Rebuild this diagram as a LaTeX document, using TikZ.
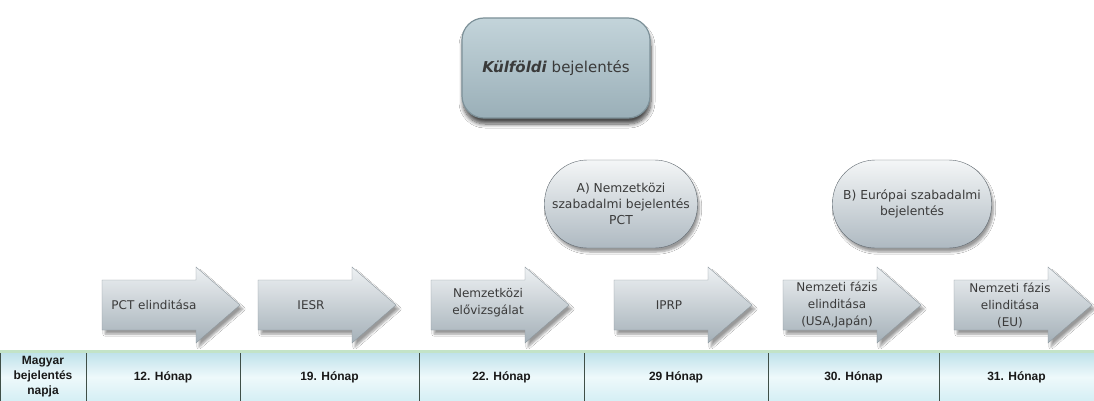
\documentclass[tikz,border=0pt]{standalone}
\usepackage{fontspec}
\setmainfont{DejaVu Sans}
\newfontfamily\cellfont{Liberation Sans}
\usepackage{xcolor}
\usetikzlibrary{positioning,shadows.blur}

\definecolor{boxtop}{HTML}{C3D4DA}
\definecolor{boxbottom}{HTML}{9AAFB8}
\definecolor{boxedge}{HTML}{7D9199}
\definecolor{pilltop}{HTML}{F4F6F7}
\definecolor{pillbottom}{HTML}{AEB9C1}
\definecolor{pilledge}{HTML}{5E676E}
\definecolor{arrowtop}{HTML}{EEF1F3}
\definecolor{arrowbottom}{HTML}{A4B0B8}
\definecolor{arrowedge}{HTML}{8C979E}
\definecolor{celltop}{HTML}{BCE0E9}
\definecolor{cellmid}{HTML}{EEF9FB}
\definecolor{cellbottom}{HTML}{D3EEF4}
\definecolor{cellline}{HTML}{3F4F47}
\definecolor{tablegreen}{HTML}{C3E3C7}
\definecolor{textgray}{HTML}{3A3A3A}

\tikzset{
    main-box/.style = {rectangle, rounded corners=22pt, draw=boxedge, line width=1.2pt, top color=boxtop, bottom color=boxbottom, minimum width=188pt, minimum height=100pt, blur shadow={shadow xshift=1pt, shadow yshift=-6pt, shadow blur steps=8, shadow blur radius=4pt, shadow opacity=70}, text=textgray, font=\fontsize{15}{18}\selectfont},
    phase-pill/.style = {rectangle, rounded corners=43pt, draw=pilledge, thin, top color=pilltop, bottom color=pillbottom, minimum height=88pt, align=center, blur shadow={shadow xshift=2pt, shadow yshift=-4pt, shadow blur steps=6}, text=textgray, font=\fontsize{12.3}{16}\selectfont},
    arrow-body/.style = {draw=arrowedge, thin, top color=arrowtop, bottom color=arrowbottom, blur shadow={shadow xshift=3pt, shadow yshift=-4pt, shadow blur steps=6}},
    step-arrow/.pic = {\path[arrow-body] (0,-25) -- (94,-25) -- (94,-38) -- (138,0) -- (94,38) -- (94,25) -- (0,25) -- cycle;},
    step-text/.style = {align=center, text=textgray, font=\fontsize{12}{17}\selectfont},
    month-cell/.style = {rectangle, draw=cellline, semithick, top color=celltop, bottom color=cellbottom, middle color=cellmid, minimum height=52pt, outer sep=0pt, inner sep=0pt, align=center, text=black!90, font=\cellfont\fontsize{12}{15}\selectfont\bfseries},
    table-top/.style = {draw=tablegreen, line width=3pt},
}

\begin{document}
\begin{tikzpicture}[x=1pt, y=-1pt]
\path[fill=white, use as bounding box] (0,0) rectangle (1094,401);

% top box
\node[main-box] (abroad) at (556,68) {\textbf{\textit{Külföldi}} bejelentés};

% the two routes
\node[phase-pill, minimum width=153pt] (pct-app) at (621,204) {A) Nemzetközi\\szabadalmi bejelentés\\PCT};
\node[phase-pill, minimum width=159pt] (ep-app) at (912,204) {B) Európai szabadalmi\\bejelentés};

% steps
\pic at (102,305) {step-arrow};
\pic at (258,305) {step-arrow};
\pic at (431,305) {step-arrow};
\pic at (614,305) {step-arrow};
\pic at (783,305) {step-arrow};
\pic at (954,305) {step-arrow};

\node[step-text] (pct-start) at (154,305) {PCT elinditása};
\node[step-text] (iesr) at (311,305) {IESR};
\node[step-text] (prelim) at (488,303) {Nemzetközi\\elővizsgálat};
\node[step-text] (iprp) at (669,305) {IPRP};
\node[step-text] (national-us) at (837,305) {Nemzeti fázis\\elinditása\\(USA,Japán)};
\node[step-text] (national-eu) at (1010,305) {Nemzeti fázis\\elinditása\\(EU)};

% months
\node[month-cell, anchor=north west, minimum width=86pt] (napja) at (0,351) {Magyar\\bejelentés\\napja};
\node[month-cell, right=0pt of napja, minimum width=154pt] (m12) {12. Hónap};
\node[month-cell, right=0pt of m12, minimum width=179pt] (m19) {19. Hónap};
\node[month-cell, right=0pt of m19, minimum width=165pt] (m22) {22. Hónap};
\node[month-cell, right=0pt of m22, minimum width=184pt] (m29) {29 Hónap};
\node[month-cell, right=0pt of m29, minimum width=171pt] (m30) {30. Hónap};
\node[month-cell, right=0pt of m30, minimum width=155pt] (m31) {31. Hónap};
\draw[table-top] (napja.north west) -- (m31.north east);
\end{tikzpicture}
\end{document}
